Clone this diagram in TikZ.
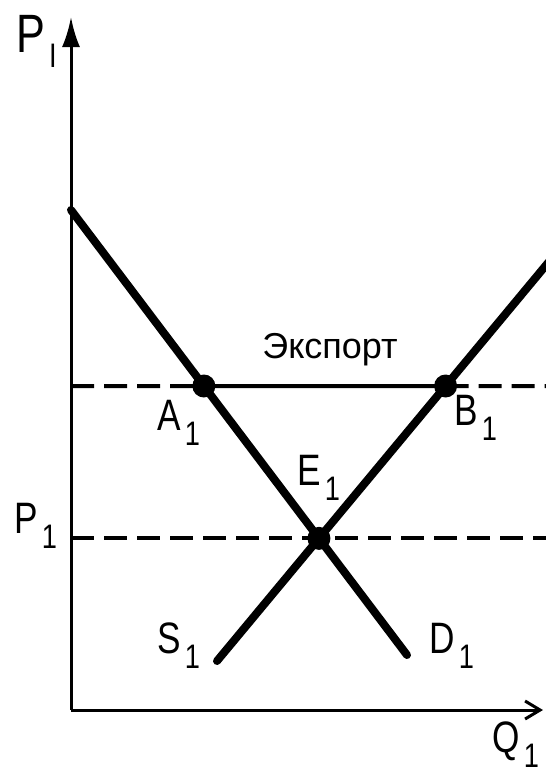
\documentclass[tikz,border=0pt]{standalone}
\usepackage{fontspec}
\setmainfont{Liberation Sans}
\newfontfamily\narrowsans[FakeStretch=0.8]{Liberation Sans}
\usepackage{xcolor}
\usetikzlibrary{arrows.meta,intersections}
\definecolor{ink}{RGB}{0,0,0}

\newcommand{\lowidx}[1]{\kern2pt\raisebox{-7.5pt}{\fontsize{17}{17}\selectfont #1}}

\begin{document}
\begin{tikzpicture}[x=0.5pt,y=-0.5pt,
  curve/.style={ink,line width=4pt,line cap=round},
  axisline/.style={ink,line width=1.5pt},
  level/.style={ink,line width=2pt,dash pattern=on 11.5pt off 5pt},
  dot/.style={circle,fill=ink,inner sep=0pt,minimum size=11.5pt},
  lbl/.style={ink,font=\narrowsans\fontsize{22}{26}\selectfont,inner sep=0pt,anchor=base west}]
\useasboundingbox (0,0) rectangle (546,772);

% axes
\coordinate (O) at (71,710);
\coordinate (ytip) at (71,17);
\coordinate (xtip) at (543,710);
\draw[axisline, -{Latex[length=15pt,width=9pt]}] (O) -- (ytip);
\draw[axisline, -{Straight Barb[length=7.5pt,width=9pt,line width=1.5pt]}] (O) -- (xtip);

% demand and supply
\coordinate (Dtop) at (71,210);
\coordinate (Dbot) at (407,655);
\coordinate (Sbot) at (217,661);
\coordinate (Stop) at (552,258);
\draw[curve, name path=demand] (Dtop) -- (Dbot);
\draw[curve, name path=supply] (Sbot) -- (Stop);

% price levels
\coordinate (Lhi) at (71,386);
\coordinate (Rhi) at (546,386);
\coordinate (Llo) at (71,538);
\coordinate (Rlo) at (546,538);
\path[name path=upper] (Lhi) -- (Rhi);
\path[name intersections={of=demand and upper, by=A}];
\path[name intersections={of=supply and upper, by=B}];
\path[name intersections={of=demand and supply, by=E}];
\draw[level] (Lhi) -- (A);
\draw[ink, line width=2pt] (A) -- (B);
\draw[level] (B) -- (Rhi);
\draw[level] (Llo) -- (Rlo);

\node[dot] (dA) at (A) {};
\node[dot] (dB) at (B) {};
\node[dot] (dE) at (E) {};

% labels
\node[lbl, font=\narrowsans\fontsize{27}{30}\selectfont] (pI) at (16,52) {P\lowidx{I}};
\node[lbl] (p1) at (14,533) {P\lowidx{1}};
\node[lbl] (a1) at (157,430) {A\lowidx{1}};
\node[lbl] (b1) at (454,425) {B\lowidx{1}};
\node[lbl] (e1) at (297,485) {E\lowidx{1}};
\node[lbl] (s1) at (157,653) {S\lowidx{1}};
\node[lbl] (d1) at (429,653) {D\lowidx{1}};
\node[lbl] (q1) at (492,752) {Q\lowidx{1}};
\node[lbl, font=\fontsize{18}{21}\selectfont] (exp) at (262,358) {Экспорт};
\end{tikzpicture}
\end{document}
